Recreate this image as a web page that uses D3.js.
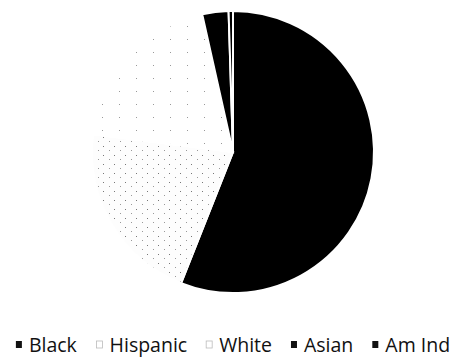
<!DOCTYPE html>
<html>
<head>
<meta charset="utf-8">
<script src="https://cdn.jsdelivr.net/npm/d3@7"></script>
<style>
  body { margin: 0; background: #fff; }
  svg { display: block; }
</style>
</head>
<body>
<div id="chart"></div>
<script>
const categories = ['Black', 'Hispanic', 'White', 'Asian', 'Am Ind'];
const shares = [56, 21, 19.5, 3, 0.5];
const fills = ['#000000', 'url(#dotsDense)', 'url(#dotsSparse)', '#000000', '#000000'];

const width = 460;
const height = 360;

const svg = d3.select('#chart')
    .append('svg')
    .attr('width', width)
    .attr('height', height);

// speckled fills for the light slices (scanned look)
const defs = svg.append('defs');
const dense = defs.append('pattern')
    .attr('id', 'dotsDense')
    .attr('patternUnits', 'userSpaceOnUse')
    .attr('width', 11)
    .attr('height', 9);
dense.append('rect').attr('width', 11).attr('height', 9).attr('fill', '#fdfdfd');
dense.append('rect').attr('x', 2).attr('y', 3).attr('width', 1).attr('height', 1).attr('fill', '#777');
dense.append('rect').attr('x', 8).attr('y', 7).attr('width', 1).attr('height', 1).attr('fill', '#999');

const sparse = defs.append('pattern')
    .attr('id', 'dotsSparse')
    .attr('patternUnits', 'userSpaceOnUse')
    .attr('width', 17)
    .attr('height', 13);
sparse.append('rect').attr('width', 17).attr('height', 13).attr('fill', '#fff');
sparse.append('rect').attr('x', 5).attr('y', 4).attr('width', 1).attr('height', 1).attr('fill', '#999');

const data = categories.map((c, i) => ({ name: c, value: shares[i], fill: fills[i] }));

const pie = d3.pie()
    .value(d => d.value)
    .sort(null);

const arc = d3.arc()
    .innerRadius(0)
    .outerRadius(141);

const g = svg.append('g')
    .attr('transform', 'translate(233, 152)');

g.selectAll('.slice')
    .data(pie(data))
    .enter()
    .append('path')
    .attr('class', 'slice')
    .attr('d', arc)
    .attr('fill', d => d.data.fill)
    .attr('stroke', '#fff')
    .attr('stroke-width', 2);

// legend, laid out in one row and centered
const legend = svg.append('g')
    .attr('transform', 'translate(0, 352)');

const items = legend.selectAll('.item')
    .data(data)
    .enter()
    .append('g')
    .attr('class', 'item');

items.append('rect')
    .attr('width', 6)
    .attr('height', 7)
    .attr('y', -11)
    .attr('fill', d => d.fill === '#000000' ? '#111' : '#fff')
    .attr('stroke', d => d.fill === '#000000' ? 'none' : '#bbb')
    .attr('stroke-width', 0.8);

items.append('text')
    .attr('x', 13)
    .style('font-family', '"Open Sans", sans-serif')
    .style('font-size', '19.5px')
    .style('fill', '#111')
    .text(d => d.name);

let x = 0;
const gap = 19;
items.each(function () {
    const w = this.getBBox().width;
    d3.select(this).attr('transform', `translate(${x},0)`);
    x += w + gap;
});
const total = x - gap;
legend.attr('transform', `translate(${(width - total) / 2 + 3}, 352)`);
</script>
</body>
</html>
